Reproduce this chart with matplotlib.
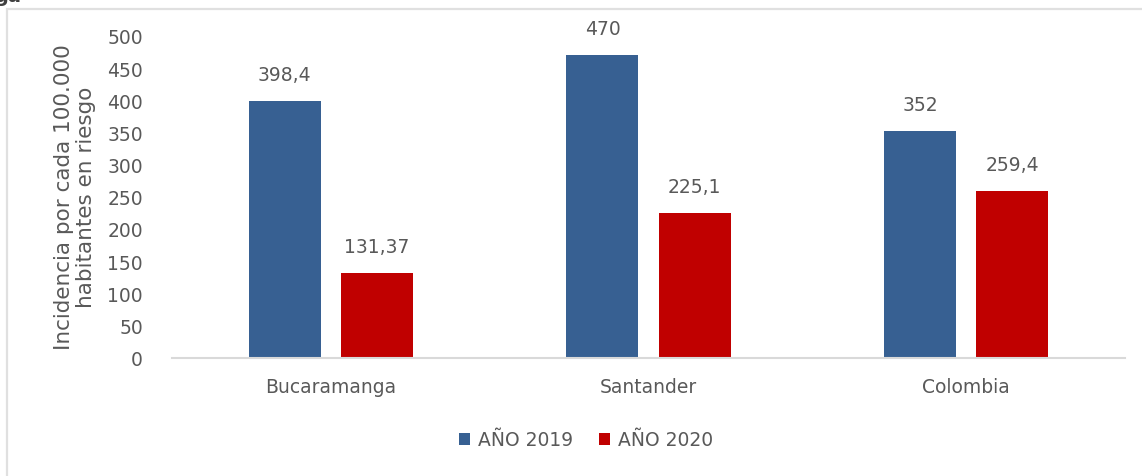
import matplotlib
matplotlib.use("Agg")
import matplotlib.pyplot as plt
import numpy as np
from matplotlib.patches import Rectangle

categories = ["Bucaramanga", "Santander", "Colombia"]
series_names = ["AÑO 2019", "AÑO 2020"]
values_2019 = [398.4, 470, 352]
values_2020 = [131.37, 225.1, 259.4]
labels_2019 = ["398,4", "470", "352"]
labels_2020 = ["131,37", "225,1", "259,4"]
yticks = [0, 50, 100, 150, 200, 250, 300, 350, 400, 450, 500]

plt.rcParams['font.family'] = ['DejaVu Sans']
W, H = 1142, 477
fig = plt.figure(figsize=(W / 100, H / 100), dpi=100)

# outer frame (light gray), extending beyond the image on right/bottom
fig.patches.append(Rectangle((6.5 / W, -0.1), 1.2, 1 - 9.5 / H + 0.1, transform=fig.transFigure,
                             fill=False, edgecolor="#e0e0e0", linewidth=1.6, zorder=0))
fig.text(-0.005, 1 - 2 / H, "ga", fontsize=14, fontweight="bold", color="#404040",
         ha="left", va="baseline")

left, right = 172 / W, 1125 / W
bottom, top = 1 - 358.5 / H, 1 - 37 / H
ax = fig.add_axes([left, bottom, right - left, top - bottom])

txt = "#595959"
blue = "#376092"
red = "#C00000"
x = np.arange(len(categories))
bw = 0.227
gap = 0.063
off = (bw + gap) / 2
b1 = ax.bar(x - off, values_2019, bw, color=blue, label=series_names[0], zorder=2)
b2 = ax.bar(x + off, values_2020, bw, color=red, label=series_names[1], zorder=2)

for rects, labs in ((b1, labels_2019), (b2, labels_2020)):
    for r, lab in zip(rects, labs):
        ax.annotate(lab, (r.get_x() + r.get_width() / 2, r.get_height()),
                    xytext=(0, 19), textcoords="offset points", ha="center", va="center",
                    fontsize=13.5, color=txt)

ax.set_xlim(-0.5, 2.5)
ax.set_ylim(0, 500)
ax.set_yticks(yticks)
ax.set_yticklabels([str(v) for v in yticks])
ax.set_xticks(x)
ax.set_xticklabels(categories)
ax.tick_params(axis="both", length=0, colors=txt, labelsize=13.5)
ax.tick_params(axis="y", pad=21)
ax.tick_params(axis="x", pad=14)
for s in ("top", "right", "left"):
    ax.spines[s].set_visible(False)
ax.spines["bottom"].set_color("#d9d9d9")
ax.spines["bottom"].set_linewidth(1.5)

fig.text(75 / W, 1 - 197 / H, "Incidencia por cada 100.000\nhabitantes en riesgo",
         rotation=90, ha="center", va="center", fontsize=15.5, color=txt,
         linespacing=1.15)

leg = fig.legend(handles=[b1, b2], labels=series_names, loc="center",
                 bbox_to_anchor=(586 / W, 1 - 441 / H), ncol=2, frameon=False,
                 fontsize=13.5, handlelength=0.6, handleheight=0.6,
                 handletextpad=0.4, columnspacing=1.4, labelcolor=txt)

fig.savefig("out.png", dpi=100)
